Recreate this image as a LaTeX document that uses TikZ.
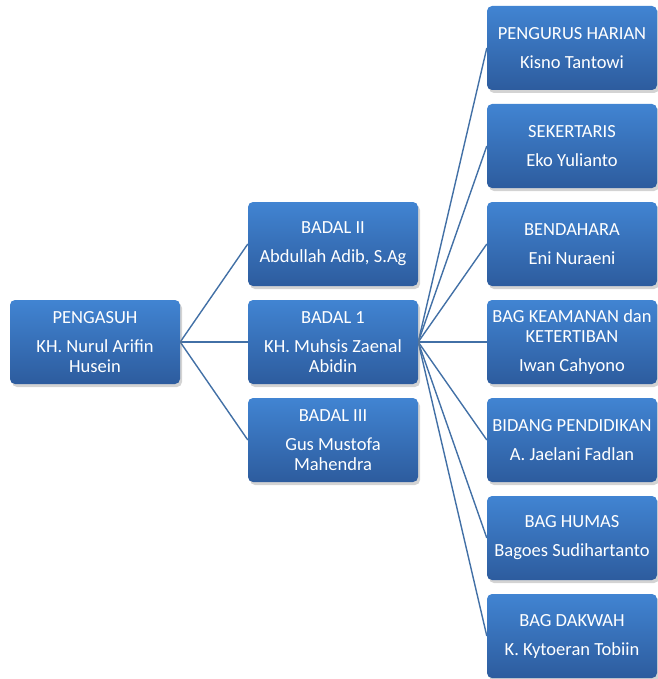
\documentclass[tikz,border=0pt]{standalone}
\usepackage{fontspec}
\setmainfont{Carlito}
\usetikzlibrary{shadows,backgrounds}
\definecolor{boxtop}{HTML}{4184D2}
\definecolor{boxbot}{HTML}{2D5C9E}
\definecolor{linec}{HTML}{4270A6}
\tikzset{
  orgbox/.style={rectangle, rounded corners=5pt, minimum width=170pt, minimum height=84pt,
    top color=boxtop, bottom color=boxbot, draw=none, text=white, align=center,
    inner sep=0pt, font=\fontsize{18.5}{20}\selectfont,
    drop shadow={opacity=0.35, shadow xshift=2pt, shadow yshift=-3pt}},
  conn/.style={draw=linec, line width=1.4pt}
}
\begin{document}
\begin{tikzpicture}[x=1pt,y=1pt]
\useasboundingbox (0,0) rectangle (657,-679);
\node[orgbox] (peng) at (95,-342) {PENGASUH\\[9pt]KH. Nurul Arifin\\Husein};
\node[orgbox] (b2) at (333,-244) {BADAL II\\[9pt]Abdullah Adib, S.Ag};
\node[orgbox] (b1) at (333,-342) {BADAL 1\\[9pt]KH. Muhsis Zaenal\\Abidin};
\node[orgbox] (b3) at (333,-440) {BADAL III\\[9pt]Gus Mustofa\\Mahendra};
\node[orgbox] (r1) at (572,-48) {PENGURUS HARIAN\\[9pt]Kisno Tantowi};
\node[orgbox] (r2) at (572,-146) {SEKERTARIS\\[9pt]Eko Yulianto};
\node[orgbox] (r3) at (572,-244) {BENDAHARA\\[9pt]Eni Nuraeni};
\node[orgbox] (r4) at (572,-342) {BAG KEAMANAN dan\\KETERTIBAN\\[9pt]Iwan Cahyono};
\node[orgbox] (r5) at (572,-440) {BIDANG PENDIDIKAN\\[9pt]A. Jaelani Fadlan};
\node[orgbox] (r6) at (572,-538) {BAG HUMAS\\[9pt]Bagoes Sudihartanto};
\node[orgbox] (r7) at (572,-636) {BAG DAKWAH\\[9pt]K. Kytoeran Tobiin};
\begin{scope}[on background layer]
\foreach \b in {b1,b2,b3} \draw[conn] (peng.east) -- (\b.west);
\foreach \r in {r1,r2,r3,r4,r5,r6,r7} \draw[conn] (b1.east) -- (\r.west);
\end{scope}
\end{tikzpicture}
\end{document}
